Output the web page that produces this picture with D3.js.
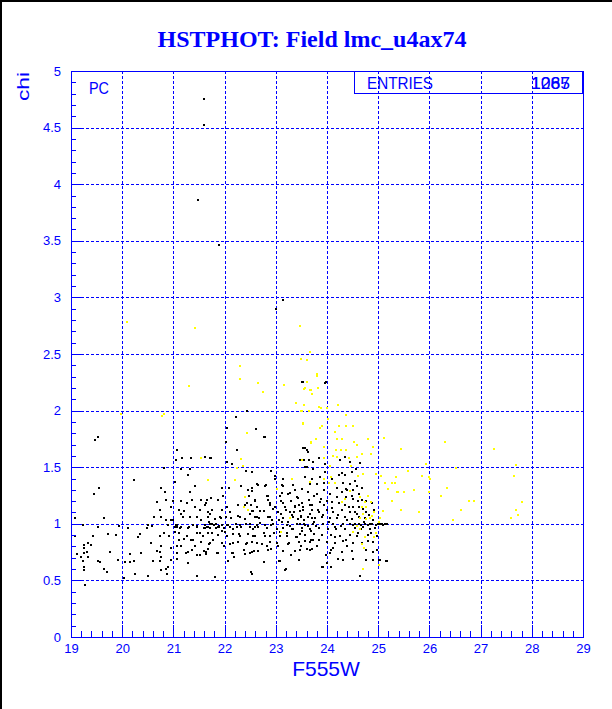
<!DOCTYPE html>
<html>
<head>
<meta charset="utf-8">
<script src="https://cdn.jsdelivr.net/npm/d3@7"></script>
<style>
  body { margin: 0; background: #fff; }
  svg { display: block; }
  text { font-family: "Liberation Sans", Arial, sans-serif; fill: #0000ff; }
</style>
</head>
<body>
<svg id="chart" width="612" height="709"></svg>
<script>
// chart values
const title = "HSTPHOT: Field lmc_u4ax74";
const xLabel = "F555W";
const yLabel = "chi";
const xTicks = [19, 20, 21, 22, 23, 24, 25, 26, 27, 28, 29];
const yTicks = [0, 0.5, 1, 1.5, 2, 2.5, 3, 3.5, 4, 4.5, 5];
const entriesA = "1087";
const entriesB = "1265";

// black points (F555W, chi)
const blackPts = [
  [21.6,4.75],[21.6,4.52],[21.48,3.86],[21.9,3.46],[23.14,2.98],[23.0,2.9],[23.53,2.25],[23.96,2.24],
  [19.47,1.74],[19.52,1.77],[19.65,1.05],[19.54,1.32],[19.44,1.26],[19.08,1.05],[19.23,0.99],[19.07,0.89],
  [19.43,0.89],[19.26,0.81],[19.33,0.83],[19.39,0.81],[19.25,0.79],[19.12,0.73],[19.25,0.74],[19.31,0.75],
  [19.2,0.71],[19.33,0.71],[19.23,0.67],[19.52,0.67],[19.57,0.66],[19.26,0.62],[19.25,0.59],[19.65,0.6],
  [19.7,0.57],[19.27,0.46],[19.77,0.75],[19.72,0.91],[19.87,0.9],[19.52,0.97],[19.91,0.68],[20.03,0.52],
  [20.05,0.66],[20.15,0.66],[20.24,0.67],[20.25,0.56],[20.15,0.73],[20.37,0.74],[20.51,0.54],[20.24,1.39],
  [20.11,0.96],[19.94,0.98],[20.3,0.88],[20.34,0.91],[20.48,0.96],[20.59,0.98],[20.56,0.83],[20.61,0.67],
  [20.67,0.76],[20.73,0.75],[20.73,0.67],[20.76,0.59],[20.86,0.6],[20.9,0.62],[20.88,0.56],[20.76,0.8],
  [20.74,0.89],[20.82,0.92],[20.91,0.89],[20.63,1.06],[20.76,1.06],[20.85,1.03],[20.95,1.03],[20.67,1.19],
  [20.73,1.12],[20.86,1.21],[20.95,1.15],[20.76,1.32],[20.84,1.28],[20.81,1.49],[20.89,0.99],[21.0,1.03],
  [21.06,0.99],[21.08,0.97],[21.07,1.65],[21.06,1.56],[21.16,1.58],[21.34,1.58],[21.62,1.59],[21.72,1.58],
  [21.14,1.48],[21.32,1.48],[21.28,1.43],[21.42,1.33],[21.32,1.28],[21.03,1.37],[21.0,1.2],[21.15,1.2],
  [21.36,1.21],[21.54,1.21],[21.63,1.18],[21.42,1.15],[21.67,1.1],[21.21,1.11],[21.1,1.12],[21.47,1.06],
  [21.67,1.06],[21.54,1.03],[21.7,1.02],[21.03,0.93],[21.15,0.97],[21.28,0.96],[21.47,0.97],[21.6,0.96],
  [21.47,0.92],[21.67,0.92],[21.21,0.87],[21.1,0.86],[21.34,0.86],[21.54,0.84],[21.7,0.82],[21.24,0.74],
  [21.28,0.75],[21.07,0.74],[21.15,0.8],[21.42,0.8],[21.59,0.76],[21.63,0.73],[20.95,0.79],[20.76,0.71],
  [20.95,0.68],[21.07,0.69],[21.29,0.65],[21.47,0.72],[21.46,0.54],[20.85,0.6],[20.5,0.99],
  [22.43,2.0],[22.22,1.94],[22.61,1.84],[22.04,1.85],[22.78,1.77],[22.03,1.72],[22.25,1.65],[21.73,1.58],
  [22.05,1.55],[22.14,1.53],[22.42,1.47],[22.91,1.47],[22.98,1.42],[22.66,1.34],[22.79,1.33],[22.53,1.32],
  [22.33,1.33],[22.46,1.3],[22.09,1.32],[21.94,1.32],[21.73,1.23],[21.96,1.25],[21.88,1.21],[22.48,1.25],
  [22.85,1.25],[22.59,1.21],[22.27,1.17],[22.4,1.17],[22.52,1.17],[22.85,1.21],[22.89,1.17],[22.99,1.15],
  [21.62,1.17],[21.75,1.12],[21.95,1.12],[21.67,1.1],[21.93,1.05],[21.82,1.04],[22.03,1.06],[22.12,1.05],
  [22.27,1.07],[22.53,1.11],[22.7,1.11],[22.4,1.04],[22.59,1.06],[22.85,1.06],[22.92,1.03],[21.71,1.0],
  [21.88,0.97],[21.94,0.99],[22.07,0.99],[22.22,1.0],[22.33,0.97],[22.49,1.0],[22.66,0.97],[22.79,0.99],
  [22.91,0.99],[21.62,0.96],[21.75,0.92],[22.01,0.93],[22.16,0.91],[22.29,0.91],[22.46,0.91],[22.59,0.89],
  [22.79,0.89],[22.96,0.92],[21.77,0.86],[21.94,0.83],[22.1,0.82],[22.27,0.84],[22.41,0.82],[22.53,0.84],
  [22.74,0.82],[22.89,0.84],[21.64,0.75],[21.88,0.74],[22.16,0.74],[22.4,0.73],[22.66,0.76],[22.85,0.77],
  [22.19,0.71],[22.5,0.74],[22.06,0.67],[22.76,0.66],[22.54,0.56],[21.82,0.53],[23.06,0.67],[23.18,0.59],
  [23.24,0.82],[23.05,0.8],
  [23.14,1.4],[23.34,1.34],[23.15,1.33],[23.57,1.5],[23.5,1.56],[23.57,1.67],[23.54,2.25],[23.62,1.63],
  [23.73,1.55],[23.71,1.4],[23.23,1.26],[23.44,1.23],[23.64,1.21],[23.1,1.2],[23.18,1.15],[23.37,1.15],
  [23.54,1.15],[23.7,1.17],[23.11,1.09],[23.31,1.08],[23.5,1.07],[23.67,1.09],[23.06,1.03],[23.24,1.02],
  [23.41,1.0],[23.57,0.99],[23.74,1.02],[23.15,0.96],[23.32,0.95],[23.52,0.94],[23.69,0.94],[23.09,0.89],
  [23.39,0.88],[23.57,0.85],[23.73,0.86],[23.26,0.83],[23.5,0.8],[23.67,0.77],
  [23.52,2.25],[23.98,2.25],[23.56,1.67],[23.6,1.65],[23.64,1.56],[23.47,1.56],[23.97,1.53],[24.05,1.51],
  [23.84,1.58],[24.25,1.56],[24.36,1.59],[24.45,1.55],[24.64,1.54],[23.6,1.5],[23.73,1.48],[23.97,1.46],
  [24.24,1.43],[24.35,1.43],[24.49,1.46],[24.57,1.48],[23.58,1.41],[23.86,1.41],[23.94,1.36],[24.32,1.36],
  [24.45,1.35],[24.58,1.33],[24.38,1.31],[24.29,1.28],[24.51,1.3],[23.94,1.3],[23.67,1.35],[23.51,1.31],
  [23.8,1.26],[24.06,1.26],[24.2,1.24],[24.38,1.24],[24.51,1.22],[24.62,1.26],[24.68,1.21],[24.77,1.2],
  [24.88,1.18],[23.51,1.18],[23.67,1.17],[23.86,1.19],[23.95,1.17],[24.1,1.19],[24.23,1.18],[24.36,1.17],
  [24.51,1.15],[24.62,1.15],[23.54,1.12],[23.71,1.12],[23.85,1.1],[24.0,1.12],[24.12,1.1],[24.29,1.12],
  [24.45,1.1],[24.58,1.09],[24.77,1.1],[24.91,1.12],[23.5,1.06],[23.63,1.06],[23.77,1.05],[23.9,1.06],
  [24.05,1.05],[24.19,1.05],[24.35,1.06],[24.49,1.04],[24.62,1.06],[24.75,1.05],[24.9,1.03],[23.56,1.0],
  [23.73,1.0],[23.93,1.0],[24.12,1.0],[24.32,1.0],[24.51,0.99],[24.62,1.0],[24.71,0.97],[24.84,1.0],
  [25.04,1.0],[25.14,1.0],[23.51,0.96],[23.67,0.95],[23.84,0.96],[24.01,0.95],[24.18,0.95],[24.36,0.95],
  [24.55,0.96],[24.67,0.95],[24.84,0.95],[23.58,0.9],[23.75,0.91],[23.9,0.9],[24.07,0.9],[24.25,0.89],
  [24.45,0.9],[24.59,0.89],[24.81,0.9],[24.97,0.89],[23.67,0.84],[23.84,0.86],[24.0,0.84],[24.16,0.83],
  [24.32,0.85],[24.51,0.83],[24.68,0.83],[24.89,0.84],[23.47,0.77],[23.71,0.78],[24.12,0.79],[24.48,0.76],
  [24.77,0.77],[24.97,0.77],[24.32,0.68],[24.51,0.69],[24.77,0.68],[24.89,0.68],[25.04,0.68],[25.17,0.67],
  [23.92,0.62],[24.0,0.65],[24.64,0.54],
  [22.56,0.95],[22.76,0.92],[22.89,0.89],[23.08,0.93],[23.21,0.89],[23.34,0.95],[23.47,0.91],[22.63,0.83],
  [22.82,0.8],[23.02,0.83],[23.26,0.83],[23.46,0.84],[23.6,0.78],[23.69,0.86],[22.57,0.76],[22.9,0.78],
  [23.15,0.76],[23.37,0.76],[22.76,0.66],[23.08,0.67],[23.19,0.6],[23.9,0.62],[24.08,0.62],[23.99,0.72],
  [24.08,0.77],[24.29,0.75],[24.21,0.69],[22.52,0.57],
  [22.76,1.77],[23.54,1.67],[23.55,1.56],[22.54,1.46],[22.8,1.34],[22.63,1.35],[22.99,1.4],[23.13,1.34],
  [22.54,1.29],[22.82,1.25],[23.08,1.25],[23.28,1.27],[23.41,1.24],[22.6,1.2],[22.89,1.18],[23.15,1.18],
  [23.38,1.16],[22.56,1.11],[22.76,1.11],[22.95,1.13],[23.28,1.1],[23.47,1.11],[22.63,1.06],[22.89,1.06],
  [23.15,1.05],[23.34,1.06],[22.7,1.01],[22.95,1.0],[23.21,0.99],[23.47,1.0],[22.6,0.97],[22.82,0.96],
  [24.99,1.0],[25.17,1.0],[25.15,0.67],[25.02,0.68],
  [21.62,0.99],[21.67,0.97],[21.72,0.96],[21.79,0.99],[21.84,1.0],[21.9,0.98],
  [24.45,1.0],[24.55,1.0],[24.66,0.99],[24.75,1.0],[24.8,0.99],[24.88,1.0],[24.95,0.99],[25.08,1.0],[25.1,0.99],
  [21.03,0.97],[21.08,0.99],[21.12,0.96],[21.19,1.06],[21.31,0.97],[21.39,0.99],[21.47,0.98],[21.52,0.92],
  [21.65,0.97],[21.75,1.0],[21.84,0.96],[21.89,0.97],[21.95,0.94],[21.98,0.96],[22.04,0.99],[22.11,0.97],
  [22.17,0.95],[22.24,0.97],[22.3,0.99],[22.41,1.0],[22.5,0.97],[22.63,0.99],[21.11,0.92],[21.26,0.89],
  [21.39,0.86],[21.58,0.89],[21.72,0.83],[21.88,0.9],[22.04,0.89],[22.17,0.83],[22.3,0.89],[22.43,0.83],
  [22.56,0.89],[21.07,0.8],[21.24,0.74],[21.37,0.77],[21.52,0.72],[21.68,0.78],[21.85,0.74],[21.98,0.8],
  [22.15,0.74],[22.37,0.77],[22.54,0.75],[21.14,1.09],[21.33,1.06],[21.52,1.12],[21.72,1.09],[21.91,1.06],
  [22.11,1.1],[22.3,1.06],[22.5,1.09],[22.67,1.05],[21.26,1.18],[21.65,1.21],[22.04,1.15],[22.43,1.18],
  [22.63,1.15],
  [23.05,1.1],[23.12,1.02],[23.2,1.12],[23.27,0.98],[23.35,1.1],[23.43,1.04],[23.29,1.2],[23.45,1.17],
  [23.12,1.27],[23.38,1.3],[23.22,0.92],[23.42,0.88],[23.02,0.95],[23.3,0.72],[23.45,0.68],
  [23.55,1.03],[23.62,0.98],[23.7,1.05],[23.78,0.98],[23.83,1.12],[23.92,1.08],[24.03,1.02],[24.1,1.14],
  [24.16,0.97],[24.22,1.08],[24.28,0.98],[24.4,1.03],[24.42,1.15],[24.55,1.1],[24.6,1.2],[24.7,1.13],
  [24.73,1.02],[24.82,1.08],[24.85,0.92],[24.93,0.96],[24.4,1.3],[24.55,1.38],[24.2,1.32],[24.1,1.4],
  [23.8,1.35],[23.88,1.22],[24.0,1.2],[24.3,1.45],[24.48,1.25],[24.68,1.32],[23.62,1.28],[23.75,1.25],
  [24.15,0.88],[24.38,0.86],[24.6,0.92],[24.8,0.85],[23.8,0.8],[24.05,0.74],[24.4,0.8],[24.9,0.75]
];

// yellow points (F555W, chi)
const yellowPts = [
  [20.1,2.78],[21.42,2.73],[23.47,2.75],[22.3,2.39],[22.3,2.28],[23.8,2.31],[21.3,2.22],[22.65,2.24],
  [23.16,2.23],[23.57,2.2],[19.98,1.97],[20.77,1.95],[20.81,1.97],[21.53,1.58],[21.67,1.39],
  [22.75,2.16],[23.39,2.07],[23.5,2.0],[23.53,1.89],[23.69,1.72],[22.44,1.8],[22.32,1.57],[22.36,1.51],
  [22.24,1.49],[22.2,1.39],[23.31,1.4],[23.02,1.31],[22.4,1.24],[22.37,1.15],[22.46,1.12],[23.27,1.05],
  [23.1,0.93],[23.67,2.18],[23.7,2.15],
  [23.67,2.52],[23.49,2.46],[23.6,2.45],[23.8,2.32],[23.6,2.25],[23.56,2.19],[23.68,2.18],[23.71,2.15],
  [23.82,2.2],[23.55,2.05],[23.84,2.03],[23.88,2.02],[23.51,2.0],[23.64,2.0],[24.0,2.02],[24.22,2.05],
  [24.37,1.96],[23.54,1.88],[23.9,1.86],[23.86,1.85],[24.02,1.93],[24.15,1.81],[24.24,1.86],[24.37,1.86],
  [24.51,1.86],[23.79,1.75],[24.19,1.75],[24.29,1.75],[23.68,1.71],[24.53,1.72],[24.58,1.7],[24.81,1.75],
  [25.11,1.76],[24.89,1.68],[23.94,1.68],[24.18,1.65],[24.28,1.65],[24.38,1.65],[24.85,1.62],[24.12,1.6],
  [24.2,1.59],[24.42,1.58],[24.59,1.59],[24.68,1.62],[23.94,1.58],[23.52,1.56],[24.06,1.51],[24.46,1.51],
  [23.94,1.4],[24.08,1.41],[24.03,1.36],[24.15,1.36],[24.61,1.42],[24.7,1.44],[24.96,1.44],[25.05,1.42],
  [25.35,1.41],[25.13,1.36],[25.26,1.36],[25.2,1.31],[25.37,1.28],[25.27,1.2],[24.45,1.29],[24.36,1.22],
  [24.64,1.24],[24.81,1.25],[24.75,1.19],[24.85,1.19],[24.68,1.15],[24.77,1.15],[24.92,1.1],[24.71,1.09],
  [24.87,1.07],[24.64,1.05],[24.76,1.04],[24.84,1.05],[25.04,1.05],[25.01,1.02],[24.58,0.98],[24.51,0.93],
  [24.64,0.95],[24.96,0.92],[24.75,0.88],[24.92,0.88],[24.68,0.82],[24.72,0.79],[25.01,0.64],[24.7,0.6],
  [24.29,1.19],[23.67,1.37],
  [25.44,1.66],[25.58,1.47],[25.93,1.53],[25.85,1.42],[25.99,1.41],[25.32,1.36],[25.5,1.28],[25.39,1.28],
  [25.69,1.3],[25.99,1.28],[25.44,1.12],[25.79,1.1],[25.1,1.11],
  [26.3,1.72],[27.26,1.66],[27.69,1.52],[26.51,1.49],[26.01,1.4],[27.65,1.42],[26.34,1.32],[26.22,1.25],
  [26.77,1.2],[26.88,1.2],[27.81,1.19],[26.62,1.12],[27.7,1.12],[27.74,1.08],[27.59,1.05],[26.47,1.03]
];

const blue = "#0000ff";
const svg = d3.select("#chart");

const x = d3.scaleLinear().domain([19, 29]).range([71, 583]);
const y = d3.scaleLinear().domain([0, 5]).range([637, 71]);

// outer frame (left and top edges visible)
svg.append("path")
  .attr("d", "M1,709V1H612")
  .attr("fill", "none").attr("stroke", "#000").attr("stroke-width", 2);

// title
svg.append("text")
  .attr("x", 312).attr("y", 47)
  .attr("text-anchor", "middle")
  .style("font-family", "'Liberation Serif', 'Times New Roman', serif")
  .style("font-weight", "bold")
  .style("font-size", "24px")
  .text(title);

// grid
const grid = svg.append("g")
  .attr("stroke", blue).attr("stroke-width", 1)
  .attr("stroke-dasharray", "3,2").attr("shape-rendering", "crispEdges");
grid.selectAll(".gx").data(xTicks.slice(1, -1)).join("line")
  .attr("x1", d => Math.round(x(d)) + 0.5).attr("x2", d => Math.round(x(d)) + 0.5)
  .attr("y1", y(5)).attr("y2", y(0));
grid.selectAll(".gy").data(yTicks.slice(1, -1)).join("line")
  .attr("y1", d => Math.round(y(d)) + 0.5).attr("y2", d => Math.round(y(d)) + 0.5)
  .attr("x1", x(19)).attr("x2", x(29));

// stats box (transparent, grid shows through)
svg.append("rect")
  .attr("x", 354.5).attr("y", 71.5).attr("width", 228).attr("height", 22)
  .attr("fill", "none").attr("stroke", blue).attr("shape-rendering", "crispEdges");
svg.append("text").attr("x", 367).attr("y", 89)
  .style("font-size", "17px").attr("textLength", 66).attr("lengthAdjust", "spacingAndGlyphs")
  .text("ENTRIES");
[entriesA, entriesB].forEach(t => {
  svg.append("text").attr("x", 531).attr("y", 89)
    .style("font-size", "17px").attr("textLength", 39).attr("lengthAdjust", "spacingAndGlyphs")
    .text(t);
});

// PC label
svg.append("text").attr("x", 89).attr("y", 94)
  .style("font-size", "16px").attr("textLength", 20).attr("lengthAdjust", "spacingAndGlyphs")
  .text("PC");

// points
const pts = svg.append("g").attr("shape-rendering", "crispEdges");
pts.selectAll(".b").data(blackPts).join("rect")
  .attr("x", d => Math.round(x(d[0])) - 1).attr("y", d => Math.round(y(d[1])) - 1)
  .attr("width", 2).attr("height", 2).attr("fill", "#000");
pts.selectAll(".yl").data(yellowPts).join("rect")
  .attr("x", d => Math.round(x(d[0])) - 1).attr("y", d => Math.round(y(d[1])) - 1)
  .attr("width", 2).attr("height", 2).attr("fill", "#ffff00");

// axes
function styleAxis(g) {
  g.selectAll("path, line").attr("stroke", blue).attr("shape-rendering", "crispEdges");
  g.selectAll("text").attr("fill", blue)
    .style("font-family", "'Liberation Sans', Arial, sans-serif").style("font-size", "13px");
}

// x minor ticks
svg.append("g").attr("transform", `translate(0,${y(0)})`)
  .call(d3.axisBottom(x).tickValues(d3.range(19, 29.001, 0.2)).tickSize(-6).tickFormat(""))
  .call(styleAxis);
// x major ticks
svg.append("g").attr("transform", `translate(0,${y(0)})`)
  .call(d3.axisBottom(x).tickValues(xTicks).tickSize(-12).tickPadding(7).tickFormat(d3.format("d")))
  .call(styleAxis);

// y minor ticks
svg.append("g").attr("transform", `translate(${x(19)},0)`)
  .call(d3.axisLeft(y).tickValues(d3.range(0, 5.001, 0.1)).tickSize(-5).tickFormat(""))
  .call(styleAxis);
// y major ticks
svg.append("g").attr("transform", `translate(${x(19)},0)`)
  .call(d3.axisLeft(y).tickValues(yTicks).tickSize(-10).tickPadding(10).tickFormat(d3.format("~g")))
  .call(styleAxis);

// plot frame
svg.append("rect")
  .attr("x", x(19) + 0.5).attr("y", y(5) + 0.5)
  .attr("width", x(29) - x(19)).attr("height", y(0) - y(5))
  .attr("fill", "none").attr("stroke", blue).attr("shape-rendering", "crispEdges");

// axis titles
svg.append("text")
  .attr("x", 326).attr("y", 676).attr("text-anchor", "middle")
  .style("font-size", "21px")
  .text(xLabel);
svg.append("text")
  .attr("transform", "translate(29,72) rotate(-90)")
  .attr("text-anchor", "end")
  .style("font-size", "16px").attr("textLength", 29).attr("lengthAdjust", "spacingAndGlyphs")
  .text(yLabel);
</script>
</body>
</html>
